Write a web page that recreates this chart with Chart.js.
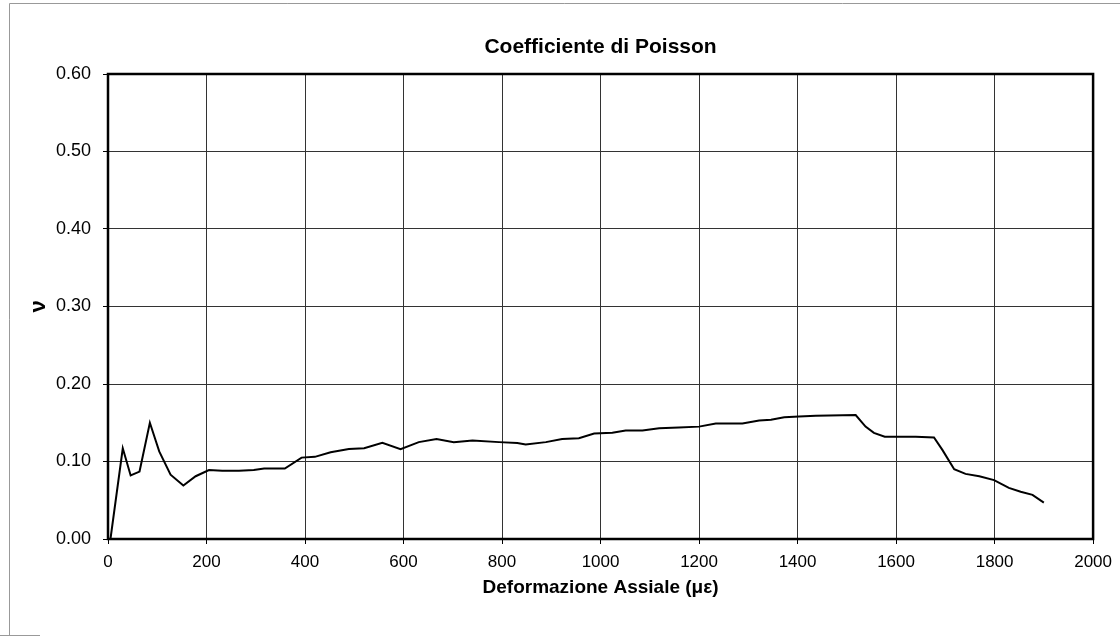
<!DOCTYPE html>
<html>
<head>
<meta charset="utf-8">
<title>Coefficiente di Poisson</title>
<script src="https://cdn.jsdelivr.net/npm/chart.js@4.4.1/dist/chart.umd.min.js"></script>
<style>
	html, body { margin: 0; padding: 0; background: #fff; }
	#wrap { width: 1120px; height: 639px; position: relative; }
</style>
</head>
<body>
<div id="wrap"><canvas id="myChart" width="1120" height="639"></canvas></div>
<script>
// deformazione assiale (microstrain)
const strain = [5, 30, 46, 64, 85, 104, 127, 153, 178, 205, 232, 266, 296, 317, 359, 393, 420, 452, 489, 520,
	557, 594, 631, 667, 702, 740, 794, 831, 848, 889, 922, 956, 987, 1024, 1051, 1085, 1119, 1159, 1200, 1234,
	1288, 1322, 1346, 1373, 1403, 1437, 1518, 1538, 1555, 1577, 1640, 1677, 1694, 1718, 1741, 1769, 1799, 1829,
	1853, 1877, 1900];

// coefficiente di Poisson
const poisson = [0, 0.117, 0.082, 0.087, 0.150, 0.113, 0.083, 0.069, 0.081, 0.089, 0.088, 0.088, 0.089, 0.091,
	0.091, 0.105, 0.106, 0.112, 0.116, 0.117, 0.124, 0.116, 0.125, 0.129, 0.125, 0.127, 0.125, 0.124, 0.122,
	0.125, 0.129, 0.130, 0.136, 0.137, 0.140, 0.140, 0.143, 0.144, 0.145, 0.149, 0.149, 0.153, 0.154, 0.157,
	0.158, 0.159, 0.160, 0.145, 0.137, 0.132, 0.132, 0.131, 0.115, 0.090, 0.084, 0.081, 0.076, 0.066, 0.061,
	0.057, 0.047];

const xTicks = [0, 200, 400, 600, 800, 1000, 1200, 1400, 1600, 1800, 2000];
const yTicks = [0, 0.1, 0.2, 0.3, 0.4, 0.5, 0.6];

const chartTitle = 'Coefficiente di Poisson';
const xTitle = 'Deformazione Assiale (\u03BC\u03B5)';
const yTitle = '\u03BD';

const fontFamily = '"Liberation Sans", Arial, sans-serif';

// cornice del foglio + bordo dell'area del grafico + titolo
const framePlugin = {
	id: 'frame',
	beforeDraw(chart) {
		const ctx = chart.ctx;
		ctx.save();
		ctx.strokeStyle = '#999';
		ctx.lineWidth = 1;
		ctx.beginPath();
		ctx.moveTo(9.5, 636);
		ctx.lineTo(9.5, 3.5);
		ctx.lineTo(1120, 3.5);
		ctx.moveTo(0, 635.5);
		ctx.lineTo(40, 635.5);
		ctx.stroke();
		ctx.restore();
	},
	afterDraw(chart) {
		const ctx = chart.ctx;
		const a = chart.chartArea;
		ctx.save();
		ctx.strokeStyle = '#000';
		ctx.lineWidth = 2.5;
		ctx.strokeRect(a.left, a.top, a.right - a.left, a.bottom - a.top);
		ctx.fillStyle = '#000';
		ctx.font = 'bold 21px ' + fontFamily;
		ctx.textAlign = 'center';
		ctx.textBaseline = 'middle';
		ctx.fillText(chartTitle, (a.left + a.right) / 2, 47);
		ctx.restore();
	}
};

window.onload = () => {
	const ctx = document.getElementById('myChart').getContext('2d');
	const points = strain.map((s, i) => ({ x: s, y: poisson[i] }));

	new Chart(ctx, {
		type: 'line',
		data: {
			datasets: [{
				label: chartTitle,
				data: points,
				borderColor: '#000',
				borderWidth: 2,
				pointRadius: 0,
				tension: 0,
				fill: false
			}]
		},
		options: {
			responsive: false,
			animation: false,
			layout: { padding: { left: 20, top: 74, right: 26, bottom: 0 } },
			plugins: {
				legend: { display: false },
				tooltip: { enabled: false }
			},
			scales: {
				x: {
					type: 'linear',
					min: 0,
					max: 2000,
					afterBuildTicks: (scale) => { scale.ticks = xTicks.map(v => ({ value: v })); },
					afterFit: (scale) => { scale.height = 100; },
					ticks: {
						color: '#000',
						font: { family: fontFamily, size: 17 },
						padding: 8,
						maxRotation: 0,
						callback: (v) => String(v)
					},
					grid: { color: '#333', lineWidth: 1, tickLength: 5, tickColor: '#000' },
					border: { display: false },
					title: {
						display: true,
						text: xTitle,
						color: '#000',
						font: { family: fontFamily, size: 19, weight: 'bold' },
						padding: { top: 0, bottom: 40 }
					}
				},
				y: {
					min: 0,
					max: 0.6,
					afterBuildTicks: (scale) => { scale.ticks = yTicks.map(v => ({ value: v })); },
					afterFit: (scale) => { scale.width = 88; },
					ticks: {
						color: '#000',
						font: { family: fontFamily, size: 18 },
						padding: 12,
						callback: (v) => v.toFixed(2)
					},
					grid: { color: '#333', lineWidth: 1, tickLength: 5, tickColor: '#000' },
					border: { display: false },
					title: {
						display: true,
						text: yTitle,
						color: '#000',
						font: { family: fontFamily, size: 22, weight: 'bold' },
						padding: { top: 6, bottom: 0 }
					}
				}
			}
		},
		plugins: [framePlugin]
	});
};
</script>
</body>
</html>
